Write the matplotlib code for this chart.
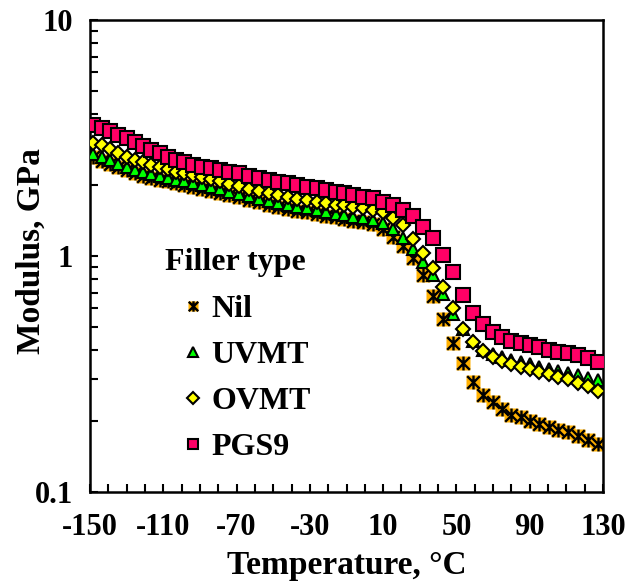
import matplotlib
matplotlib.use("Agg")
import matplotlib.pyplot as plt
from matplotlib.path import Path
from matplotlib.ticker import FixedLocator, NullFormatter, LogLocator

plt.rcParams["font.family"] = ["Liberation Serif", "DejaVu Serif"]
plt.rcParams["font.weight"] = "bold"

# Temperature sweep (°C)
temperature = [-148.5, -143.5, -139, -134.5, -130, -125.5, -121, -116.5, -112, -107.5,
               -103, -98.5, -94, -89, -84, -79, -74, -68.5, -63, -57.5,
               -52.5, -47.5, -42, -37, -31.5, -26, -21, -16, -11.5, -6.5,
               -1, 4.5, 10, 15.5, 21, 26.5, 32, 37, 42.5, 48,
               53.5, 59, 64.5, 70, 75, 80, 85, 90, 95, 100.5,
               105.5, 111, 116.5, 122, 127]

# Storage modulus (GPa) for each filler type
nil = [2.62, 2.53, 2.46, 2.38, 2.31, 2.24, 2.19, 2.14, 2.10, 2.07,
       2.03, 2.00, 1.97, 1.93, 1.89, 1.85, 1.81, 1.77, 1.73, 1.69,
       1.65, 1.61, 1.58, 1.55, 1.53, 1.51, 1.48, 1.46, 1.44, 1.41,
       1.40, 1.36, 1.30, 1.20, 1.10, 0.98, 0.83, 0.68, 0.54, 0.43,
       0.352, 0.293, 0.258, 0.240, 0.225, 0.213, 0.207, 0.199, 0.194, 0.188,
       0.183, 0.179, 0.173, 0.166, 0.160]

uvmt = [2.71, 2.62, 2.55, 2.46, 2.39, 2.32, 2.27, 2.22, 2.18, 2.14,
        2.10, 2.07, 2.04, 2.00, 1.96, 1.92, 1.87, 1.83, 1.79, 1.75,
        1.71, 1.67, 1.64, 1.61, 1.59, 1.57, 1.54, 1.51, 1.49, 1.46,
        1.45, 1.42, 1.38, 1.30, 1.19, 1.07, 0.94, 0.83, 0.69, 0.57,
        0.49, 0.435, 0.400, 0.385, 0.372, 0.362, 0.354, 0.347, 0.340, 0.333,
        0.326, 0.320, 0.313, 0.305, 0.297]

ovmt = [3.02, 2.94, 2.83, 2.72, 2.64, 2.55, 2.50, 2.44, 2.38, 2.33,
        2.28, 2.24, 2.20, 2.16, 2.12, 2.07, 2.02, 1.98, 1.93, 1.89,
        1.85, 1.81, 1.78, 1.75, 1.72, 1.70, 1.67, 1.65, 1.64, 1.62,
        1.60, 1.57, 1.53, 1.45, 1.35, 1.18, 1.03, 0.89, 0.74, 0.60,
        0.49, 0.433, 0.397, 0.375, 0.360, 0.349, 0.339, 0.331, 0.322, 0.315,
        0.306, 0.300, 0.291, 0.280, 0.268]

pgs9 = [3.58, 3.48, 3.37, 3.26, 3.16, 3.03, 2.92, 2.82, 2.72, 2.63,
        2.55, 2.49, 2.44, 2.39, 2.35, 2.31, 2.27, 2.24, 2.18, 2.14,
        2.10, 2.06, 2.04, 2.00, 1.96, 1.94, 1.90, 1.87, 1.85, 1.81,
        1.78, 1.76, 1.69, 1.65, 1.57, 1.48, 1.33, 1.19, 1.01, 0.855,
        0.684, 0.573, 0.515, 0.476, 0.452, 0.438, 0.428, 0.420, 0.411, 0.400,
        0.392, 0.388, 0.380, 0.370, 0.356]

x_ticks = [-150, -110, -70, -30, 10, 50, 90, 130]
y_ticks = [0.1, 1, 10]
y_tick_labels = ["0.1", "1", "10"]

# asterisk: an X crossed by a vertical stroke
star_path = Path([(-1, -1), (1, 1), (-1, 1), (1, -1), (0, -1.1), (0, 1.1)],
                 [Path.MOVETO, Path.LINETO, Path.MOVETO, Path.LINETO,
                  Path.MOVETO, Path.LINETO])

fig = plt.figure(figsize=(6.3, 5.84), dpi=100)
ax = fig.add_axes([90 / 630, 92 / 584, 513 / 630, 472 / 584])

nil_base, = ax.plot(temperature, nil, ls="none", marker="s", ms=10,
                    mfc="#FFB000", mec="none", zorder=2)
nil_star, = ax.plot(temperature, nil, ls="none", marker=star_path, ms=10,
                    mec="black", mfc="none", mew=1.7, zorder=2.1)
h_uv, = ax.plot(temperature, uvmt, ls="none", marker="^", ms=9,
                mfc="#00FF00", mec="black", mew=1.5, zorder=3)
h_ov, = ax.plot(temperature, ovmt, ls="none", marker="D", ms=7.5,
                mfc="#FFFF00", mec="black", mew=1.5, zorder=4)
h_pg, = ax.plot(temperature, pgs9, ls="none", marker="s", ms=9.5,
                mfc="#FF0066", mec="black", mew=1.5, zorder=5)

ax.set_yscale("log")
ax.set_xlim(-150, 130)
ax.set_ylim(0.1, 10)

ax.xaxis.set_major_locator(FixedLocator(x_ticks))
ax.xaxis.set_minor_locator(FixedLocator(list(range(-150, 131, 10))))
ax.set_xticklabels([str(t) for t in x_ticks])
ax.yaxis.set_major_locator(FixedLocator(y_ticks))
ax.set_yticklabels(y_tick_labels)
ax.yaxis.set_minor_locator(LogLocator(base=10, subs=range(2, 10)))
ax.yaxis.set_minor_formatter(NullFormatter())

ax.tick_params(axis="both", which="both", direction="in", length=6, width=1.5,
               labelsize=22, top=False, right=False)
ax.tick_params(axis="x", which="both", pad=15)
ax.tick_params(axis="y", which="both", pad=12)
for s in ax.spines.values():
    s.set_linewidth(1.8)

ax.set_xlabel("Temperature, °C", fontsize=24, fontweight="bold", labelpad=6)
ax.set_ylabel("Modulus, GPa", fontsize=24, fontweight="bold")
ax.yaxis.set_label_coords(-0.084, 0.51)

ax.text(0.146, 0.487, "Filler type", transform=ax.transAxes, fontsize=23,
        fontweight="bold", ha="left", va="center")
leg = ax.legend([(nil_base, nil_star), h_uv, h_ov, h_pg],
                ["Nil", "UVMT", "OVMT", "PGS9"],
                loc="upper left", bbox_to_anchor=(0.183, 0.418),
                frameon=False, fontsize=23, handlelength=0.6,
                handletextpad=0.25, labelspacing=0.52, markerscale=0.75,
                borderpad=0, borderaxespad=0)

fig.savefig("out.png", dpi=100)
